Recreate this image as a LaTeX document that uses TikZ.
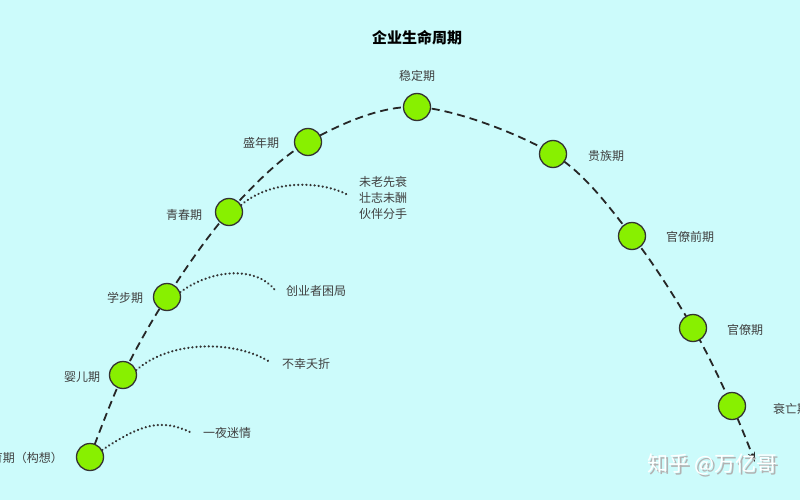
\documentclass[tikz,border=0pt]{standalone}
\usepackage{fontspec}
\newfontfamily\cjk{Noto Sans CJK SC}
\usetikzlibrary{arrows.meta}
\definecolor{bg}{HTML}{CCFBFB}
\definecolor{lime}{HTML}{88F000}
\begin{document}
\begin{tikzpicture}[x=1pt,y=-1pt,
  stage/.style={circle,draw=black!80,line width=1.3pt,fill=lime,minimum size=27pt,inner sep=0pt},
  lbl/.style={font=\cjk\fontsize{12}{14}\selectfont,text=black!75,inner sep=1pt},
  dots/.style={line cap=round,dash pattern=on 0.1pt off 4pt,line width=2.4pt,black!80},
  main/.style={dash pattern=on 8pt off 5pt,line width=1.8pt,black!85}]
\fill[bg] (0,0) rectangle (800,500);
\useasboundingbox (0,0) rectangle (800,500);
\clip (0,0) rectangle (800,500);
\node[font=\cjk\bfseries\fontsize{15}{17}\selectfont] (title) at (417,38) {企业生命周期};
\draw[main,-{Stealth[length=10pt]}] plot[smooth,tension=0.55] coordinates {(90,457) (123,375) (167,297) (229,212) (308,142) (417,107) (553,154) (632,236) (693,328) (732,406) (755,462)};
\node[stage] (s1) at (90,457) {};
\node[stage] (s2) at (123,375) {};
\node[stage] (s3) at (167,297) {};
\node[stage] (s4) at (229,212) {};
\node[stage] (s5) at (308,142) {};
\node[stage] (s6) at (417,107) {};
\node[stage] (s7) at (553,154) {};
\node[stage] (s8) at (632,236) {};
\node[stage] (s9) at (693,328) {};
\node[stage] (s10) at (732,406) {};
\node[lbl,anchor=east] (l1) at (64,458) {孕育期（构想）};
\node[lbl] (l2) at (82,377) {婴儿期};
\node[lbl] (l3) at (125,298) {学步期};
\node[lbl] (l4) at (184,215) {青春期};
\node[lbl] (l5) at (261,143) {盛年期};
\node[lbl] (l6) at (417,76) {稳定期};
\node[lbl] (l7) at (606,156) {贵族期};
\node[lbl] (l8) at (690,237) {官僚前期};
\node[lbl] (l9) at (745,330) {官僚期};
\node[lbl,anchor=west] (l10) at (772,409) {衰亡期};
\node[lbl,anchor=west] (t1) at (202,433) {一夜迷情};
\node[lbl,anchor=west] (t2) at (281,364) {不幸夭折};
\node[lbl,anchor=west] (t3) at (285,291) {创业者困局};
\node[lbl,anchor=west,align=left,font=\cjk\fontsize{12}{16}\selectfont] (t4) at (358,198) {未老先衰\\壮志未酬\\伙伴分手};
\draw[dots] (s1.30) .. controls (140,425) and (160,418) .. (190,432);
\draw[dots] (s2.20) .. controls (170,340) and (235,340) .. (270,362);
\draw[dots] (s3.20) .. controls (210,270) and (255,265) .. (275,290);
\draw[dots] (s4.30) .. controls (270,180) and (320,180) .. (348,195);
\node[font=\cjk\fontsize{21}{23}\selectfont,text=gray!60,anchor=west] (wmshadow) at (646,466) {知乎 @万亿哥};
\node[font=\cjk\fontsize{21}{23}\selectfont,text=white,anchor=west] (wm) at (644,464) {知乎 @万亿哥};
\end{tikzpicture}
\end{document}
